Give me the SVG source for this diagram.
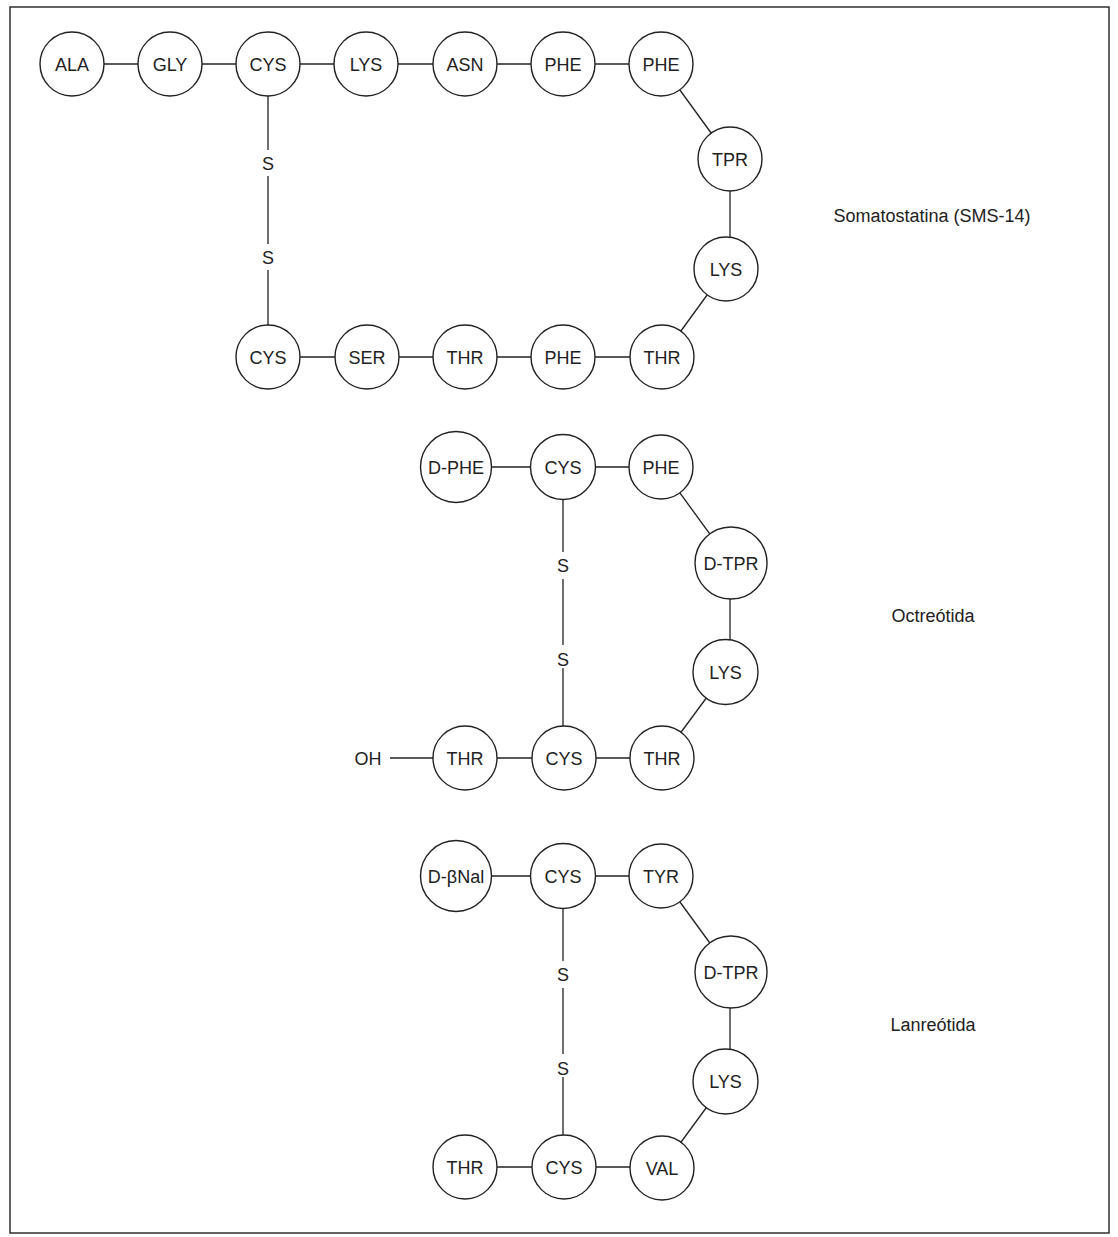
<svg xmlns="http://www.w3.org/2000/svg" width="1118" height="1237" viewBox="0 0 1118 1237">
<style>
.n circle{fill:#fff;stroke:#222;stroke-width:1.4}
text{font-family:"Liberation Sans",Arial,sans-serif;font-size:18px;fill:#222;text-anchor:middle}
.c line{stroke:#222;stroke-width:1.3}
</style>
<rect x="10" y="7" width="1099" height="1226" fill="#fff" stroke="#222" stroke-width="1.4"/>
<g class="c" id="connectors">
<!-- Somatostatina -->
<line x1="72" y1="64" x2="661" y2="64"/>
<line x1="661" y1="64" x2="730" y2="159"/>
<line x1="730" y1="159" x2="730" y2="269"/>
<line x1="726" y1="269" x2="662" y2="357"/>
<line x1="268" y1="357" x2="662" y2="357"/>
<line x1="268" y1="96" x2="268" y2="150"/>
<line x1="268" y1="176" x2="268" y2="244"/>
<line x1="268" y1="270" x2="268" y2="325"/>
<!-- Octreotida -->
<line x1="456" y1="467" x2="661" y2="467"/>
<line x1="661" y1="467" x2="731" y2="563"/>
<line x1="730" y1="563" x2="730" y2="672"/>
<line x1="725.5" y1="672" x2="662" y2="758"/>
<line x1="390" y1="758" x2="662" y2="758"/>
<line x1="563" y1="500" x2="563" y2="552"/>
<line x1="563" y1="579" x2="563" y2="645"/>
<line x1="563" y1="668" x2="563" y2="726"/>
<!-- Lanreotida -->
<line x1="456" y1="876" x2="661" y2="876"/>
<line x1="661" y1="876" x2="731" y2="972"/>
<line x1="730" y1="972" x2="730" y2="1081.5"/>
<line x1="725.5" y1="1081.5" x2="662" y2="1168"/>
<line x1="465" y1="1167" x2="662" y2="1167"/>
<line x1="563" y1="909" x2="563" y2="961"/>
<line x1="563" y1="988" x2="563" y2="1054"/>
<line x1="563" y1="1077" x2="563" y2="1135"/>
</g>
<g class="n">
<g id="s-ala"><circle cx="72" cy="64" r="32"/><text x="72" y="70.5">ALA</text></g>
<g id="s-gly"><circle cx="170" cy="64" r="32"/><text x="170" y="70.5">GLY</text></g>
<g id="s-cys1"><circle cx="268" cy="64" r="32"/><text x="268" y="70.5">CYS</text></g>
<g id="s-lys1"><circle cx="366" cy="64" r="32"/><text x="366" y="70.5">LYS</text></g>
<g id="s-asn"><circle cx="465" cy="64" r="32"/><text x="465" y="70.5">ASN</text></g>
<g id="s-phe1"><circle cx="563" cy="64" r="32"/><text x="563" y="70.5">PHE</text></g>
<g id="s-phe2"><circle cx="661" cy="64" r="32"/><text x="661" y="70.5">PHE</text></g>
<g id="s-tpr"><circle cx="730" cy="159" r="32"/><text x="730" y="165.5">TPR</text></g>
<g id="s-lys2"><circle cx="726" cy="269" r="32"/><text x="726" y="275.5">LYS</text></g>
<g id="s-thr1"><circle cx="662" cy="357" r="32"/><text x="662" y="363.5">THR</text></g>
<g id="s-phe3"><circle cx="563" cy="357" r="32"/><text x="563" y="363.5">PHE</text></g>
<g id="s-thr2"><circle cx="465" cy="357" r="32"/><text x="465" y="363.5">THR</text></g>
<g id="s-ser"><circle cx="367" cy="357" r="32"/><text x="367" y="363.5">SER</text></g>
<g id="s-cys2"><circle cx="268" cy="357" r="32"/><text x="268" y="363.5">CYS</text></g>

<g id="o-dphe"><circle cx="456" cy="467" r="35.5"/><text x="456" y="473.5">D-PHE</text></g>
<g id="o-cys1"><circle cx="563" cy="467" r="32.5"/><text x="563" y="473.5">CYS</text></g>
<g id="o-phe"><circle cx="661" cy="467" r="32"/><text x="661" y="473.5">PHE</text></g>
<g id="o-dtpr"><circle cx="731" cy="563" r="36"/><text x="731" y="569.5">D-TPR</text></g>
<g id="o-lys"><circle cx="725.5" cy="672" r="32.5"/><text x="725.5" y="678.5">LYS</text></g>
<g id="o-thr1"><circle cx="662" cy="758" r="32"/><text x="662" y="764.5">THR</text></g>
<g id="o-cys2"><circle cx="564" cy="758" r="32"/><text x="564" y="764.5">CYS</text></g>
<g id="o-thr2"><circle cx="465" cy="758" r="32"/><text x="465" y="764.5">THR</text></g>

<g id="l-dbnal"><circle cx="456" cy="876" r="35.5"/><text x="456" y="882.5">D-βNal</text></g>
<g id="l-cys1"><circle cx="563" cy="876" r="32.5"/><text x="563" y="882.5">CYS</text></g>
<g id="l-tyr"><circle cx="661" cy="876" r="32"/><text x="661" y="882.5">TYR</text></g>
<g id="l-dtpr"><circle cx="731" cy="972" r="36"/><text x="731" y="978.5">D-TPR</text></g>
<g id="l-lys"><circle cx="725.5" cy="1081.5" r="32.5"/><text x="725.5" y="1088">LYS</text></g>
<g id="l-val"><circle cx="662" cy="1168" r="32"/><text x="662" y="1174.5">VAL</text></g>
<g id="l-cys2"><circle cx="564" cy="1167" r="32"/><text x="564" y="1173.5">CYS</text></g>
<g id="l-thr"><circle cx="465" cy="1167" r="32"/><text x="465" y="1173.5">THR</text></g>
</g>
<g id="labels">
<text x="268" y="169.5">S</text>
<text x="268" y="263.5">S</text>
<text x="563" y="571.5">S</text>
<text x="563" y="665.5">S</text>
<text x="563" y="980.5">S</text>
<text x="563" y="1074.5">S</text>
<text x="368" y="764.5">OH</text>
<text x="932" y="221.5">Somatostatina (SMS-14)</text>
<text x="933" y="621.5">Octreótida</text>
<text x="933" y="1030.5">Lanreótida</text>
</g>
</svg>
